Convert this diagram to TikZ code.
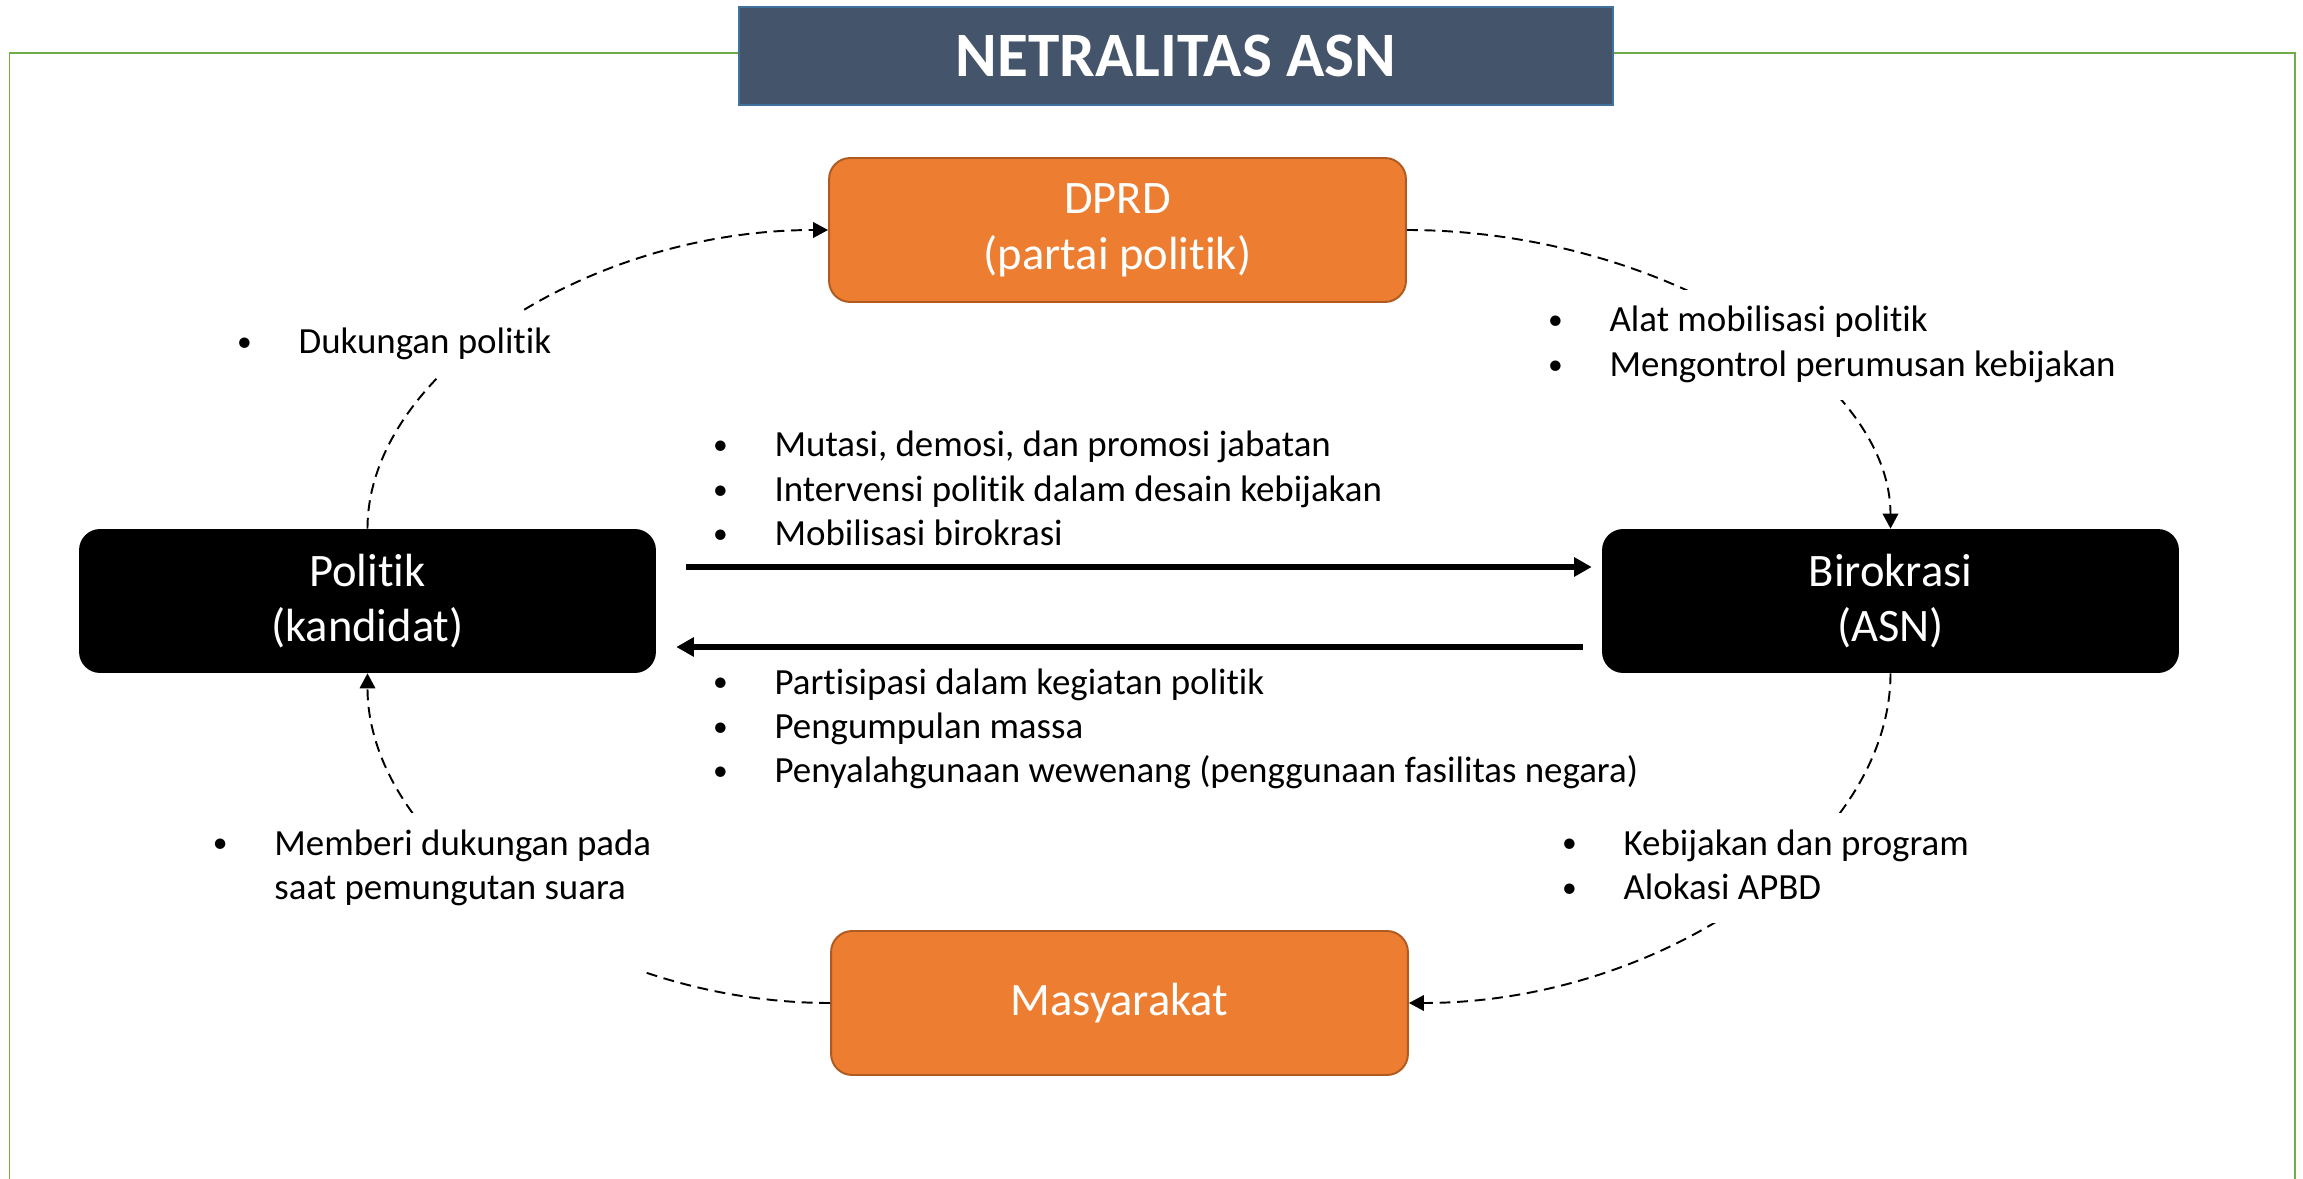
\documentclass[tikz,border=0pt]{standalone}
\usepackage{graphicx}
\usepackage{fontspec}
\setmainfont{Carlito}[Ligatures=NoCommon]
\usetikzlibrary{arrows.meta,calc}

\definecolor{slate}{HTML}{44546A}
\definecolor{slateline}{HTML}{41719C}
\definecolor{framegreen}{HTML}{70AD47}
\definecolor{boxorange}{HTML}{ED7D31}
\definecolor{boxorangeline}{HTML}{AE5A21}

\newcommand{\itm}{\makebox[35pt][l]{\raisebox{1.2pt}{\scalebox{0.8}{\textbullet}}}}
\newcommand{\lst}[1]{\begin{tabular}{@{}l@{}}#1\end{tabular}}

\begin{document}
\begin{tikzpicture}[x=0.02cm, y=-0.02cm]
  \tikzstyle{actor}=[rounded corners=12pt, minimum width=11.54cm, minimum height=2.88cm, inner sep=0pt, text=white, align=center, font=\fontsize{26.5}{31.8}\selectfont]
  \tikzstyle{blackbox}=[actor, fill=black]
  \tikzstyle{orangebox}=[actor, fill=boxorange, draw=boxorangeline, line width=1.1pt]
  \tikzstyle{note}=[fill=white, inner xsep=3pt, inner ysep=6pt, anchor=west, font=\fontsize{21}{25.3}\selectfont]
  \tikzstyle{flow}=[line width=3.4pt, -{Triangle[length=10pt,width=10.5pt]}]
  \tikzstyle{dashflow}=[line width=1.1pt, dash pattern=on 6.2pt off 3.8pt, -{Triangle[length=8.5pt,width=8.8pt]}]

  \useasboundingbox (0,0) rectangle (2303,1179);

  % frame and title
  \draw[framegreen, line width=1.1pt] (9.5,1190) -- (9.5,53.3) -- (2295,53.3) -- (2295,1190);
  \node[fill=slate, draw=slateline, line width=1.1pt, minimum width=17.48cm, minimum height=1.95cm, text=white, font=\fontsize{36}{42}\selectfont\bfseries] (title) at (1176,56) {NETRALITAS ASN};

  % actors
  \node[blackbox] (politik) at (367.5,601) {Politik\\(kandidat)};
  \node[blackbox] (birokrasi) at (1890.5,601) {Birokrasi\\(ASN)};
  \node[orangebox] (dprd) at (1117.5,230) {DPRD\\(partai politik)};
  \node[orangebox] (masyarakat) at (1119.5,1003) {Masyarakat};

  % direct relations
  \draw[flow] ($(politik.east)+(30,-34)$) -- ($(birokrasi.west)+(-10,-34)$);
  \draw[flow] ($(birokrasi.west)+(-19,46)$) -- ($(politik.east)+(20,46)$);

  % the cycle
  \foreach \from/\to/\ax/\ay/\bx/\by in {politik.north/dprd.west/0/-155/-240/0, dprd.east/birokrasi.north/250/0/0/-155, birokrasi.south/masyarakat.east/0/172/251/0, masyarakat.west/politik.south/-241/0/0/172}
    \draw[dashflow] (\from) .. controls +(\ax,\ay) and +(\bx,\by) .. (\to);

  % labels
  \node[note] (support) at (231.5,345) {\lst{\itm Dukungan politik}};
  \node[note] (control) at (1542.5,345) {\lst{\itm Alat mobilisasi politik\\ \itm Mengontrol perumusan kebijakan}};
  \node[note, fill=none] (intervene) at (707.5,492.3) {\lst{\itm Mutasi, demosi, dan promosi jabatan\\ \itm Intervensi politik dalam desain kebijakan\\ \itm Mobilisasi birokrasi}};
  \node[note, fill=none] (misuse) at (707.5,729.6) {\lst{\itm Partisipasi dalam kegiatan politik\\ \itm Pengumpulan massa\\ \itm Penyalahgunaan wewenang (penggunaan fasilitas negara)}};
  \node[note] (program) at (1556.5,868.4) {\lst{\itm Kebijakan dan program\\ \itm Alokasi APBD}};
  \node[note, anchor=north west] (vote) at (207.3,813) {\lst{\itm Memberi dukungan pada\\ \hspace{35pt}saat pemungutan suara}\rule[-48pt]{0pt}{48pt}};
\end{tikzpicture}
\end{document}
